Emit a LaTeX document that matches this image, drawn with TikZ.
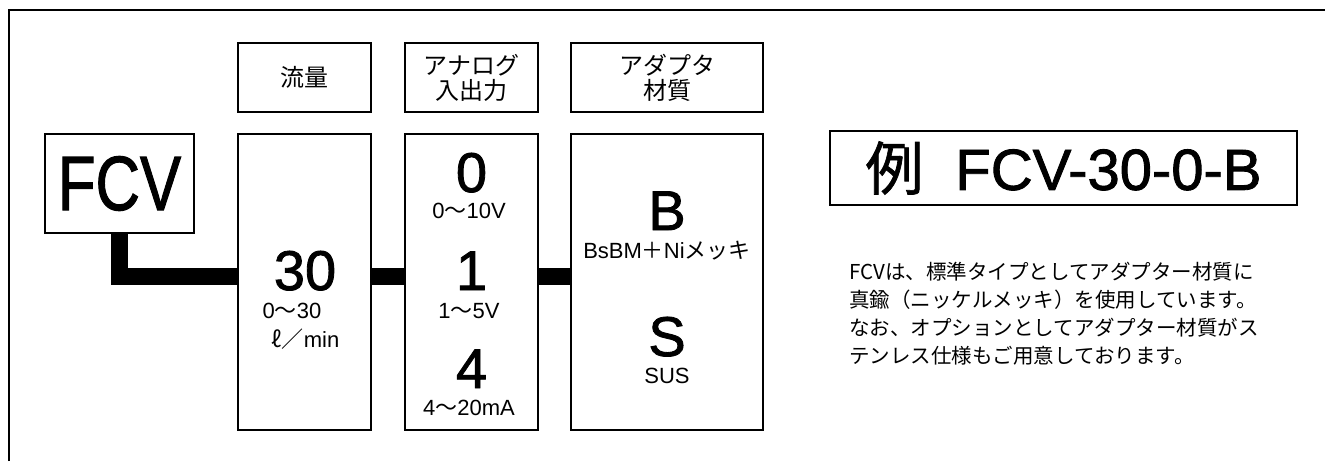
\documentclass[tikz,border=0pt]{standalone}
\usepackage{fontspec}
\setmainfont{Liberation Sans}
\newfontfamily\jpfont{Noto Sans CJK JP}
\newfontfamily\jpheavy[FakeBold=1.2]{Noto Sans CJK JP}
\newfontfamily\bigfont[FakeBold=1.5]{Liberation Sans}
\newcommand{\jp}[1]{{\jpfont #1}}
\usepackage{graphicx}
\usetikzlibrary{calc}
\tikzset{
  box/.style={draw, line width=1pt, inner sep=0pt},
  head/.style={box, minimum height=34.5pt, align=center,
    font=\jpfont\fontsize{12}{12.5}\selectfont},
  block/.style={box, minimum height=148pt},
  big/.style={inner sep=0pt, anchor=base, font=\bigfont\fontsize{28}{28}\selectfont},
  small/.style={inner sep=0pt, anchor=base, text height=8pt, text depth=0pt,
    font=\fontsize{11}{11}\selectfont},
  pipe/.style={line width=8.5pt, line join=miter},
}

\begin{document}
\begin{tikzpicture}[x=0.5pt, y=0.5pt]
  \useasboundingbox (0,0) rectangle (1325,461);
  % cadre
  \draw[line width=1pt] (9,0) |- (1325,451);

  % en-têtes
  \node[head, minimum width=66.5pt] (flowhead) at (304.5,383.5) {流量};
  \node[head, minimum width=66.5pt] (analoghead) at (471.5,383.5) {アナログ\\入出力};
  \node[head, minimum width=96pt] (adapterhead) at (667,383.5) {アダプタ\\材質};

  % modèle
  \node[box, minimum width=74.5pt, minimum height=49.5pt,
    font=\bigfont\fontsize{38.5}{38.5}\selectfont] (fcv) at (119.5,277.5) {\scalebox{0.8}[1]{FCV}};

  % débit
  \node[block, minimum width=66.5pt] (flow) at (304.5,179) {};
  \node[big] (flowcode) at (305,171) {30};
  \node[small] (flowrange) at (292,143) {0\jp{〜}30};
  \node[small] (flowunit) at (305.5,114) {\jp{ℓ／}min};

  % sortie analogique
  \node[block, minimum width=66.5pt] (analog) at (471.5,179) {};
  \node[big] (analogzero) at (471.5,269) {0};
  \node[small] (analogzerorange) at (469,243) {0\jp{〜}10V};
  \node[big] (analogone) at (471.5,171) {1};
  \node[small] (analogonerange) at (469,143) {1\jp{〜}5V};
  \node[big] (analogfour) at (471.5,73) {4};
  \node[small] (analogfourrange) at (469,46) {4\jp{〜}20mA};

  % adaptateur
  \node[block, minimum width=96pt] (adapter) at (667,179) {};
  \node[big] (adapterb) at (667,231) {B};
  \node[small] (adapterbtext) at (667,203) {BsBM\jp{＋}Ni\jp{メッキ}};
  \node[big] (adapters) at (667,105) {S};
  \node[small] (adapterstext) at (667,78) {SUS};

  % liaisons
  \coordinate (bus) at (0,184.5);
  \draw[pipe] (fcv.south) |- (bus -| flow.west);
  \draw[pipe] (bus -| flow.east) -- (bus -| analog.west);
  \draw[pipe] (bus -| analog.east) -- (bus -| adapter.west);

  % exemple
  \node[box, minimum width=233.5pt, minimum height=37pt,
    font=\bigfont\fontsize{29}{29}\selectfont] (example) at (1063.5,293)
    {{\jpheavy 例}\hspace{0.55em}FCV-30-0-B};
  \node[inner sep=0pt, anchor=north west, align=left,
    font=\jpfont\fontsize{10.25}{14}\selectfont] (note) at (849,199)
    {FCVは、標準タイプとしてアダプター材質に\\
     真鍮（ニッケルメッキ）を使用しています。\\
     なお、オプションとしてアダプター材質がス\\
     テンレス仕様もご用意しております。};
\end{tikzpicture}
\end{document}
